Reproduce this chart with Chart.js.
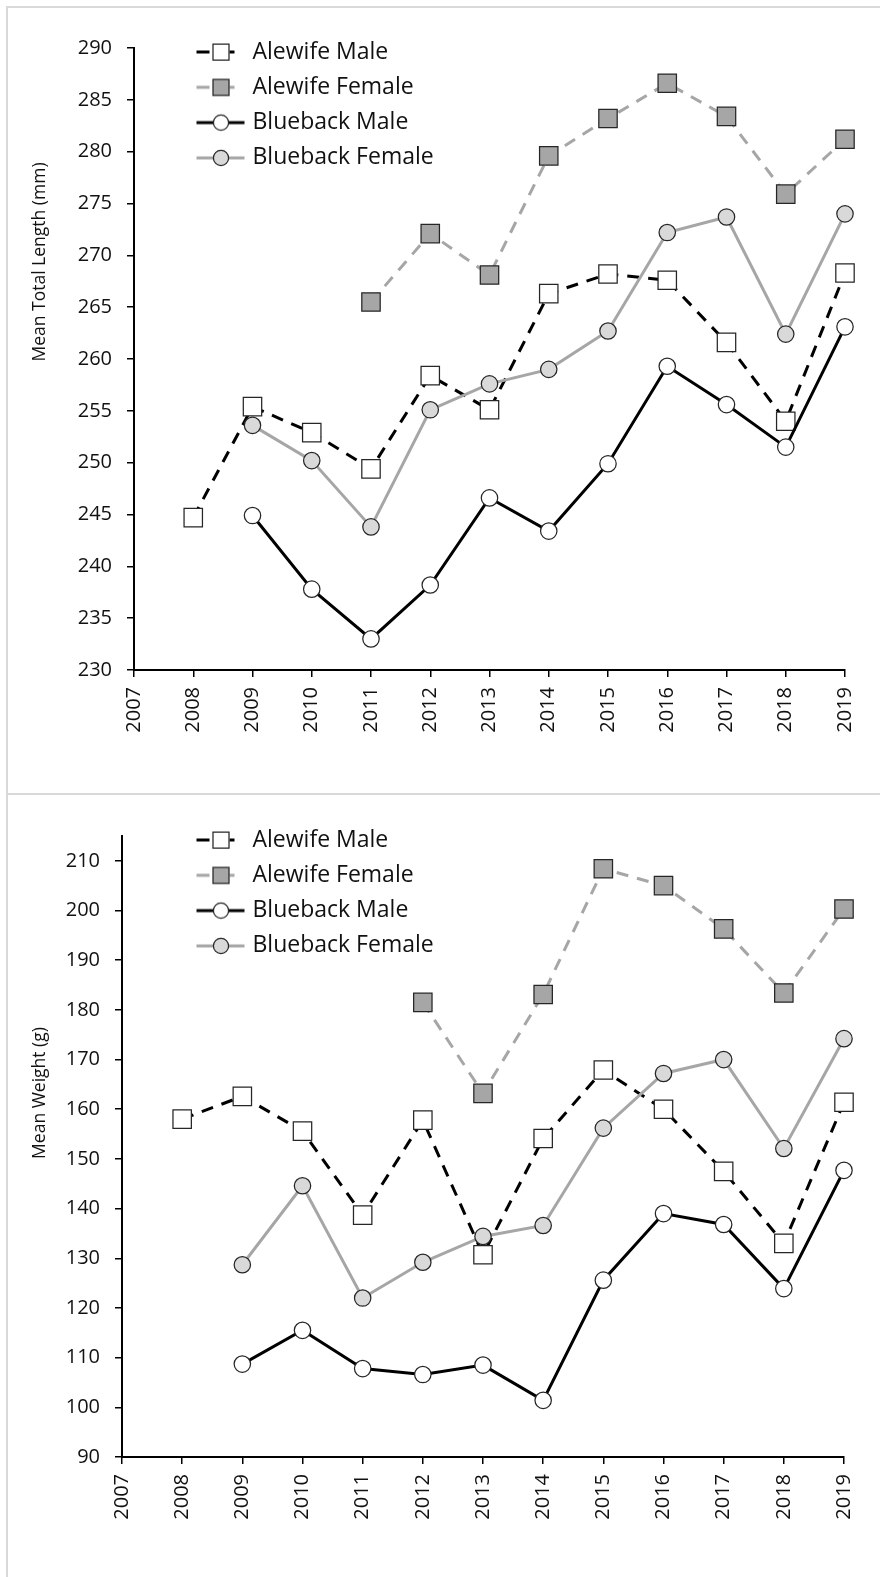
<!DOCTYPE html>
<html><head><meta charset="utf-8">
<script src="https://cdn.jsdelivr.net/npm/chart.js@4.4.1/dist/chart.umd.min.js"></script>
<style>
html,body{margin:0;padding:0;background:#fff;width:880px;height:1577px;overflow:hidden;}
.box{position:absolute;border:2px solid #d9d9d9;box-sizing:border-box;}
#box1{left:6px;top:6px;width:900px;height:789px;}
#box2{left:6px;top:793px;width:900px;height:820px;}
canvas{position:absolute;left:0;}
#c1{top:0px;}
#c2{top:795px;}
</style></head><body>
<div class="box" id="box1"></div><div class="box" id="box2"></div>
<canvas id="c1" width="880" height="790"></canvas>
<canvas id="c2" width="880" height="782"></canvas>
<script>
// ---- data ----
const years = ['2007','2008','2009','2010','2011','2012','2013','2014','2015','2016','2017','2018','2019'];
const seriesNames = ['Alewife Male','Alewife Female','Blueback Male','Blueback Female'];

const lengthAlewifeMale     = [null, 244.7, 255.4, 252.9, 249.4, 258.4, 255.1, 266.3, 268.2, 267.6, 261.6, 254.0, 268.3];
const lengthAlewifeFemale   = [null, null, null, null, 265.5, 272.1, 268.1, 279.6, 283.2, 286.6, 283.4, 275.9, 281.2];
const lengthBluebackMale    = [null, null, 244.9, 237.8, 233.0, 238.2, 246.6, 243.4, 249.9, 259.3, 255.6, 251.5, 263.1];
const lengthBluebackFemale  = [null, null, 253.6, 250.2, 243.8, 255.1, 257.6, 259.0, 262.7, 272.2, 273.7, 262.4, 274.0];

const weightAlewifeMale     = [null, 158.0, 162.6, 155.6, 138.7, 157.8, 130.7, 154.1, 167.9, 160.0, 147.5, 133.0, 161.4];
const weightAlewifeFemale   = [null, null, null, null, null, 181.5, 163.2, 183.1, 208.4, 205.0, 196.3, 183.4, 200.3];
const weightBluebackMale    = [null, null, 108.7, 115.5, 107.8, 106.6, 108.5, 101.4, 125.6, 139.0, 136.8, 123.9, 147.7];
const weightBluebackFemale  = [null, null, 128.7, 144.6, 122.0, 129.2, 134.4, 136.6, 156.2, 167.2, 170.0, 152.1, 174.2];

const lengthAxis = {min: 230, max: 290, step: 5};
const weightAxis = {min: 90, max: 215, step: 10};
const lengthTitle = 'Mean Total Length (mm)';
const weightTitle = 'Mean Weight (g)';

// ---- styles ----
const FONT = 'Open Sans';
const TXT = '#111111';
const DARK = '#000000';
const GREY = '#a6a6a6';
const MK = '#262626';
const styles = [
  {line: DARK, dash: [12, 9], shape: 'rect',   fill: '#ffffff', r: 13},
  {line: GREY, dash: [12, 9], shape: 'rect',   fill: '#a6a6a6', r: 13},
  {line: DARK, dash: [],      shape: 'circle', fill: '#ffffff', r: 8.2},
  {line: GREY, dash: [],      shape: 'circle', fill: '#d9d9d9', r: 8.2}
];

function makeSymbol(st) {
  const c = document.createElement('canvas');
  c.width = 50; c.height = 20;
  const g = c.getContext('2d');
  g.strokeStyle = st.line; g.lineWidth = 3; g.lineCap = 'butt';
  g.beginPath();
  if (st.dash.length) {
    g.moveTo(0.5, 10); g.lineTo(13.5, 10);
    g.moveTo(33.5, 10); g.lineTo(38.5, 10);
  } else {
    g.moveTo(0.5, 10); g.lineTo(48.5, 10);
  }
  g.stroke();
  g.fillStyle = st.fill; g.strokeStyle = MK; g.lineWidth = 1.25;
  g.beginPath();
  if (st.shape === 'rect') { g.rect(17, 2, 16, 16); }
  else { g.arc(25, 10, 7.6, 0, Math.PI * 2); }
  g.fill(); g.stroke();
  return c;
}
const legendSymbols = styles.map(makeSymbol);

function makeDatasets(arrs) {
  return arrs.map((d, i) => ({
    label: seriesNames[i],
    data: d,
    borderColor: styles[i].line,
    borderWidth: 3,
    borderDash: styles[i].dash,
    backgroundColor: styles[i].fill,
    pointStyle: styles[i].shape,
    pointRadius: styles[i].r,
    pointHoverRadius: styles[i].r,
    pointBackgroundColor: styles[i].fill,
    pointBorderColor: MK,
    pointBorderWidth: 1.25,
    pointHoverBorderWidth: 1.25,
    tension: 0,
    fill: false,
    clip: false,
    order: 3 - i
  }));
}

const legendPlacer = {
  id: 'legendPlacer',
  afterLayout(chart, args, opts) {
    const lg = chart.legend;
    if (!lg) return;
    lg.left = opts.x; lg.top = opts.y;
    lg.width = 500; lg.height = 220;
    lg.right = opts.x + 500; lg.bottom = opts.y + 220;
  }
};

const axisTitle = {
  id: 'axisTitle',
  afterDraw(chart, args, opts) {
    const ctx = chart.ctx;
    ctx.save();
    ctx.font = opts.size + 'px "' + FONT + '"';
    ctx.fillStyle = TXT;
    ctx.textAlign = 'center';
    ctx.textBaseline = 'middle';
    ctx.translate(opts.x, opts.y);
    ctx.rotate(-Math.PI / 2);
    ctx.fillText(opts.text, 0, 0);
    ctx.restore();
  }
};

function makeChart(id, arrs, axis, title, geo) {
  const tickFont = {family: FONT, size: 20};
  const gridOpts = {display: true, drawOnChartArea: false, drawTicks: true, tickLength: 7, color: DARK, lineWidth: 1.5};
  const borderOpts = {display: true, color: DARK, width: 2};
  return new Chart(document.getElementById(id), {
    type: 'line',
    data: {labels: years, datasets: makeDatasets(arrs)},
    plugins: [legendPlacer, axisTitle],
    options: {
      responsive: false,
      animation: false,
      events: [],
      layout: {autoPadding: false, padding: {left: 0, top: geo.top, right: geo.right, bottom: 0}},
      scales: {
        x: {
          type: 'category', offset: false,
          grid: gridOpts, border: borderOpts,
          ticks: {minRotation: 90, maxRotation: 90, autoSkip: false, padding: 10, color: TXT, font: tickFont},
          afterFit(s) { s.height = geo.xh; s.paddingLeft = 0; s.paddingRight = 0; }
        },
        y: {
          min: axis.min, max: axis.max,
          grid: gridOpts, border: borderOpts,
          ticks: {stepSize: axis.step, padding: 15, color: TXT, font: tickFont},
          afterBuildTicks(s) { s.ticks = s.ticks.filter(t => (t.value - axis.min) % axis.step === 0); },
          afterFit(s) { s.width = geo.yw; s.paddingTop = 0; s.paddingBottom = 0; }
        }
      },
      plugins: {
        tooltip: {enabled: false},
        legend: {
          display: true,
          position: 'chartArea',
          align: 'start',
          labels: {
            usePointStyle: true,
            pointStyleWidth: 40,
            padding: 12.3,
            color: TXT,
            font: {family: FONT, size: 23},
            generateLabels(chart) {
              return chart.data.datasets.map((ds, i) => ({
                text: ds.label, pointStyle: legendSymbols[i], fillStyle: 'rgba(0,0,0,0)',
                strokeStyle: 'rgba(0,0,0,0)', lineWidth: 0, hidden: false, datasetIndex: i, fontColor: TXT
              }));
            }
          }
        },
        legendPlacer: {x: 188.7, y: geo.legY},
        axisTitle: {text: title, x: 40, y: geo.titleY, size: geo.titleSize}
      }
    }
  });
}

makeChart('c1', [lengthAlewifeMale, lengthAlewifeFemale, lengthBluebackMale, lengthBluebackFemale], lengthAxis, lengthTitle,
  {top: 48, right: 35, xh: 120, yw: 134, legY: 28.2, titleY: 262, titleSize: 17.5});
makeChart('c2', [weightAlewifeMale, weightAlewifeFemale, weightBluebackMale, weightBluebackFemale], weightAxis, weightTitle,
  {top: 41, right: 36, xh: 120, yw: 122, legY: 21.2, titleY: 298, titleSize: 17.5});
</script>
</body></html>
